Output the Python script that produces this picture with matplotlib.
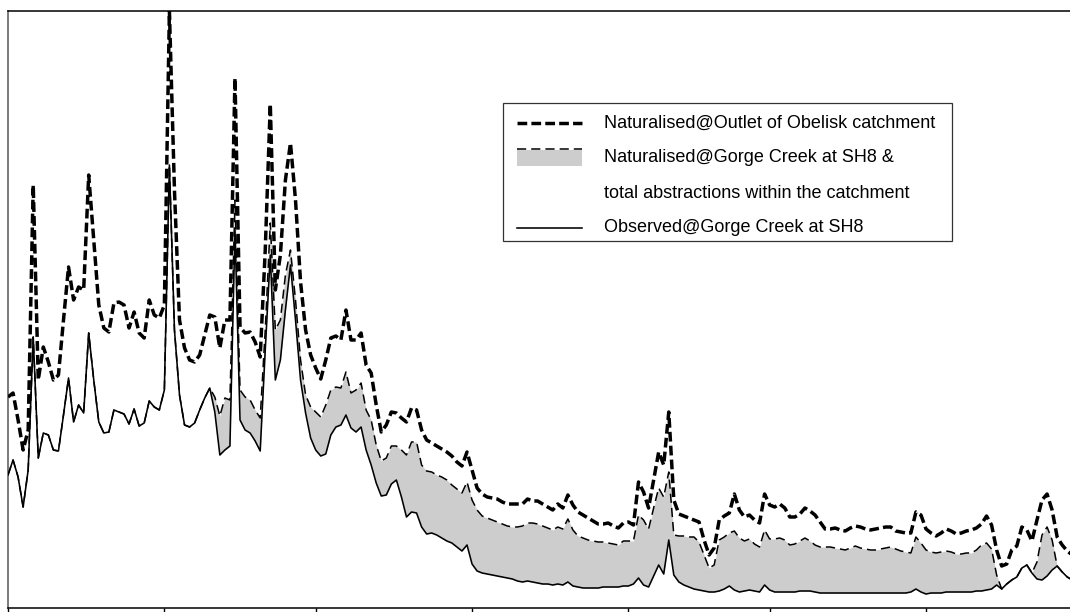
import numpy as np
import matplotlib
matplotlib.use("Agg")
import matplotlib.pyplot as plt
from matplotlib.patches import Rectangle
from matplotlib.lines import Line2D

# ---------------- data (daily values, arbitrary flow units) ----------------
outlet_naturalised = [
    211, 215, 188, 158, 178, 423, 228, 261, 246, 228, 233, 288, 341, 308, 321, 318,
    433, 368, 303, 280, 276, 305, 306, 303, 280, 296, 275, 270, 308, 293, 290, 303,
    597, 418, 288, 260, 248, 246, 253, 273, 293, 291, 260, 288, 288, 530, 281, 275,
    276, 266, 251, 358, 504, 318, 353, 428, 465, 408, 326, 278, 253, 240, 229, 248,
    270, 272, 268, 298, 268, 268, 275, 243, 235, 203, 176, 183, 196, 195, 190, 186,
    200, 198, 178, 168, 165, 162, 159, 156, 152, 146, 142, 156, 138, 120, 114, 111,
    110, 109, 106, 104, 104, 104, 104, 109, 107, 107, 104, 101, 98, 104, 100, 113,
    103, 96, 93, 90, 87, 84, 84, 85, 82, 80, 85, 86, 83, 126, 116, 100,
    128, 156, 143, 196, 108, 94, 92, 90, 88, 86, 68, 53, 60, 88, 92, 95,
    114, 98, 91, 93, 88, 85, 114, 103, 101, 104, 100, 91, 91, 94, 100, 97,
    93, 86, 79, 79, 80, 78, 77, 80, 82, 81, 79, 78, 79, 80, 81, 81,
    77, 76, 75, 75, 96, 93, 79, 75, 72, 75, 79, 77, 74, 75, 77, 78,
    80, 84, 92, 83, 58, 42, 44, 58, 62, 81, 78, 67, 88, 108, 114, 98,
    71, 63, 57, 53,
]

gorge_naturalised = [
    133, 148, 131, 101, 138, 271, 150, 175, 173, 158, 157, 193, 230, 186, 203, 195,
    275, 228, 186, 175, 176, 198, 196, 194, 184, 199, 182, 185, 207, 201, 198, 218,
    443, 278, 213, 183, 181, 185, 198, 210, 220, 211, 192, 210, 208, 408, 218, 211,
    208, 198, 190, 278, 385, 278, 288, 333, 358, 308, 248, 213, 201, 196, 191, 203,
    218, 221, 220, 236, 215, 218, 225, 198, 188, 163, 147, 150, 162, 162, 158, 153,
    166, 166, 143, 137, 136, 133, 131, 128, 123, 119, 115, 126, 108, 98, 92, 90,
    88, 86, 84, 82, 81, 81, 82, 85, 85, 84, 82, 80, 78, 81, 79, 89,
    78, 72, 70, 68, 67, 66, 66, 65, 64, 63, 67, 67, 67, 93, 88, 79,
    100, 120, 111, 136, 73, 72, 72, 71, 71, 66, 53, 40, 43, 68, 71, 75,
    77, 70, 67, 69, 64, 61, 78, 69, 69, 70, 68, 63, 64, 67, 70, 67,
    63, 61, 61, 61, 60, 59, 58, 60, 62, 60, 59, 58, 58, 59, 60, 61,
    59, 57, 56, 55, 71, 65, 58, 56, 55, 56, 57, 56, 54, 54, 55, 55,
    58, 63, 65, 59, 33, 19, 24, 28, 31, 40, 43, 35, 46, 73, 81, 68,
    42, 36, 31, 28,
]

observed = [
    133, 148, 131, 101, 138, 271, 150, 175, 173, 158, 157, 193, 230, 186, 203, 195,
    275, 228, 186, 175, 176, 198, 196, 194, 184, 199, 182, 185, 207, 201, 198, 218,
    443, 278, 213, 183, 181, 185, 198, 210, 220, 196, 153, 158, 162, 378, 188, 178,
    175, 167, 157, 258, 353, 228, 248, 298, 343, 288, 228, 195, 170, 158, 152, 154,
    173, 181, 183, 193, 180, 176, 181, 158, 143, 125, 112, 113, 124, 128, 111, 91,
    96, 95, 81, 74, 75, 73, 70, 67, 65, 61, 57, 63, 44, 37, 35, 34,
    33, 32, 31, 30, 29, 27, 26, 27, 26, 25, 24, 24, 23, 24, 23, 26,
    22, 21, 20, 20, 20, 20, 21, 21, 21, 21, 22, 22, 24, 30, 23, 21,
    32, 43, 34, 68, 33, 26, 23, 21, 19, 18, 17, 16, 16, 17, 19, 22,
    18, 16, 17, 18, 17, 16, 23, 18, 16, 16, 16, 16, 16, 17, 17, 17,
    16, 15, 15, 15, 15, 15, 15, 15, 15, 15, 15, 15, 15, 15, 15, 15,
    15, 15, 15, 16, 19, 16, 14, 15, 15, 15, 16, 16, 16, 16, 16, 16,
    17, 17, 18, 19, 23, 19, 24, 28, 31, 40, 43, 35, 29, 28, 32, 38,
    42, 36, 31, 28,
]

month_tick_days = [0, 31, 61, 92, 123, 151, 182]

legend_labels = [
    "Naturalised@Outlet of Obelisk catchment",
    "Naturalised@Gorge Creek at SH8 &",
    "total abstractions within the catchment",
    "Observed@Gorge Creek at SH8",
]

# ---------------- figure ----------------
W, H = 1070, 612
fig = plt.figure(figsize=(W / 100, H / 100), dpi=100)

x_left, y_top, y_bot, x_right = 8, 11, 608, 1100
px_per_day = 5.044
ax = fig.add_axes([x_left / W, (H - y_bot) / H, (x_right - x_left) / W, (y_bot - y_top) / H])

days = np.arange(len(observed))
obs = np.array(observed, dtype=float)
gor = np.array(gorge_naturalised, dtype=float)
out = np.array(outlet_naturalised, dtype=float)

fill_grey = "#cdcdcd"
ax.fill_between(days, obs, gor, where=gor >= obs, interpolate=True,
                color=fill_grey, linewidth=0, zorder=1)
ax.plot(days, obs, color="black", lw=1.15, zorder=3)
ax.plot(days, gor, color="black", lw=1.1, dashes=(6, 3.3), zorder=4)
ax.plot(days, out, color="black", lw=2.5, dashes=(2.8, 1.2), zorder=5)

ax.set_xlim(0, (x_right - x_left) / px_per_day)
ax.set_ylim(0, y_bot - y_top)

ax.set_xticks(month_tick_days)
ax.set_xticklabels([])
ax.set_yticks([])
ax.tick_params(axis="x", direction="out", length=6, width=1, color="black")
ax.spines["right"].set_visible(False)
ax.spines["left"].set_color("#7a7a7a")
ax.spines["left"].set_linewidth(1.4)
ax.spines["top"].set_linewidth(1.1)
ax.spines["bottom"].set_linewidth(1.1)

# ---------------- legend (drawn in figure pixel coordinates) ----------------
def fx(x):
    return x / W

def fy(y):
    return 1 - y / H

box_x0, box_y0, box_x1, box_y1 = 503, 103, 952, 241
fig.add_artist(Rectangle((fx(box_x0), fy(box_y1)), fx(box_x1) - fx(box_x0), fy(box_y0) - fy(box_y1),
                         transform=fig.transFigure, facecolor="white", edgecolor="#333333",
                         linewidth=0.9, zorder=10))

hx0, hx1, tx = 517, 582, 604
rows = [123, 158, 193, 228]

fig.add_artist(Line2D([fx(hx0), fx(hx1)], [fy(rows[0]), fy(rows[0])], transform=fig.transFigure,
                      color="black", lw=2.5, dashes=(2.8, 1.2), zorder=11))
fig.add_artist(Rectangle((fx(hx0), fy(166)), fx(hx1) - fx(hx0), fy(150) - fy(166),
                         transform=fig.transFigure, facecolor=fill_grey, edgecolor="none", zorder=11))
fig.add_artist(Line2D([fx(hx0), fx(hx1)], [fy(149), fy(149)], transform=fig.transFigure,
                      color="black", lw=1.1, dashes=(6, 3.3), zorder=12))
fig.add_artist(Line2D([fx(hx0), fx(hx1)], [fy(rows[3]), fy(rows[3])], transform=fig.transFigure,
                      color="black", lw=1.15, zorder=11))

for lab, ry in zip(legend_labels, rows):
    fig.text(fx(tx), fy(ry), lab, fontsize=13, family=["Liberation Sans", "DejaVu Sans"],
             va="center", ha="left", color="black", zorder=12)

fig.savefig("out.png", dpi=100)
